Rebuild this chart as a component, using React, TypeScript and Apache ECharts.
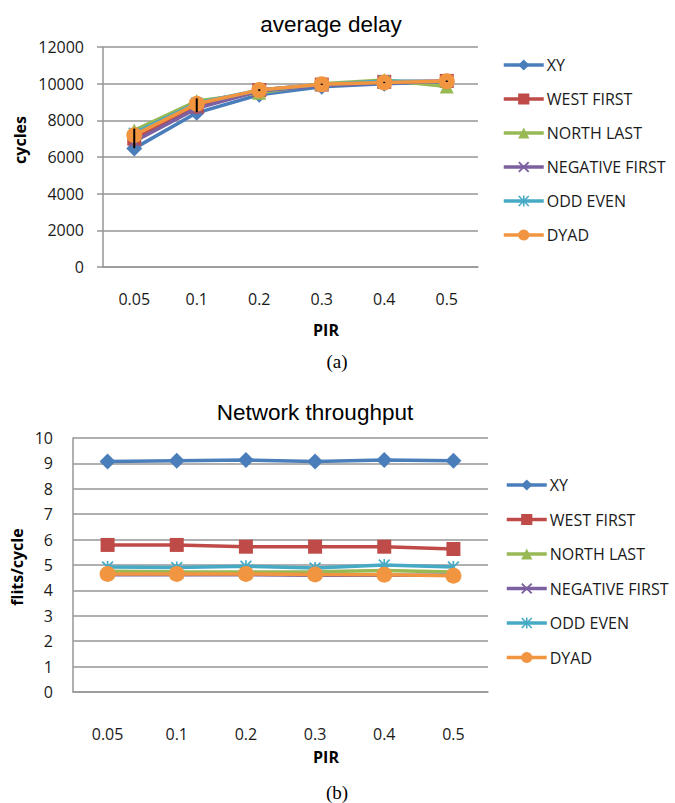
import React, { useEffect, useRef } from "react";
import * as echarts from "echarts";

const categories = ["0.05", "0.1", "0.2", "0.3", "0.4", "0.5"];
const seriesNames = ["XY", "WEST FIRST", "NORTH LAST", "NEGATIVE FIRST", "ODD EVEN", "DYAD"];
const colors = ["#4A7EBB", "#BE4B48", "#98B954", "#7D60A0", "#46AAC5", "#F29541"];

// average delay (cycles)
const xyDelay = [6470, 8410, 9400, 9830, 10000, 10100];
const westDelay = [7000, 8750, 9650, 9950, 10100, 10150];
const northDelay = [7450, 9050, 9500, 10000, 10200, 9850];
const negDelay = [6850, 8650, 9600, 9900, 10050, 10100];
const oddDelay = [7300, 8950, 9650, 9950, 10150, 10100];
const dyadDelay = [7190, 8900, 9650, 9970, 10060, 10130];
const delayErrLow = [6480, 8450, 9600, 9930, 10030, 10090];
const delayErrHigh = [7550, 9200, 9700, 10000, 10100, 10170];

// network throughput (flits/cycle)
const xyThr = [9.07, 9.1, 9.13, 9.07, 9.13, 9.1];
const westThr = [5.79, 5.79, 5.72, 5.72, 5.72, 5.63];
const northThr = [4.75, 4.73, 4.72, 4.73, 4.78, 4.72];
const negThr = [4.62, 4.62, 4.62, 4.6, 4.6, 4.6];
const oddThr = [4.92, 4.9, 4.95, 4.88, 5.0, 4.92];
const dyadThr = [4.65, 4.65, 4.65, 4.63, 4.62, 4.58];

const delayTicks = { min: 0, max: 12000, interval: 2000 };
const thrTicks = { min: 0, max: 10, interval: 1 };

const X_SYM = "path://M0,1.2 L1.2,0 L5,3.8 L8.8,0 L10,1.2 L6.2,5 L10,8.8 L8.8,10 L5,6.2 L1.2,10 L0,8.8 L3.8,5 Z";
const STAR_SYM =
  "path://M4.3,0 L5.7,0 L5.7,10 L4.3,10 Z M0,1 L1,0 L10,9 L9,10 Z M9,0 L10,1 L1,10 L0,9 Z";
const symbols = ["diamond", "rect", "triangle", X_SYM, STAR_SYM, "circle"];
const symbolSizes = [16, 14, 14, 11, 12, 16];

const FONT = "'Open Sans', sans-serif";

export default function App() {
  const ref = useRef<HTMLDivElement>(null);
  useEffect(() => {
    if (!ref.current) return;
    const chart = echarts.init(ref.current, null, { renderer: "svg" });
    const delaySets = [xyDelay, westDelay, northDelay, negDelay, oddDelay, dyadDelay];
    const thrSets = [xyThr, westThr, northThr, negThr, oddThr, dyadThr];

    const mk = (data: number[], i: number, axisIdx: number) => ({
      type: "line",
      name: seriesNames[i],
      xAxisIndex: axisIdx,
      yAxisIndex: axisIdx,
      data,
      symbol: symbols[i],
      symbolSize: symbolSizes[i],
      showAllSymbol: true,
      lineStyle: { color: colors[i], width: 3.5 },
      itemStyle: { color: colors[i], borderWidth: 0 },
      emphasis: { disabled: true },
      z: 2 + i,
    });

    const gridLine = { show: true, lineStyle: { color: "#969696", width: 1.5 } };
    const axisLine = { show: true, lineStyle: { color: "#969696", width: 1.5 } };
    const yLabel = { color: "#1a1a1a", fontFamily: FONT, fontSize: 16, formatter: (v: number) => String(v) };
    const xLabel = { color: "#1a1a1a", fontFamily: FONT, fontSize: 16 };

    const legendBase = {
      orient: "vertical",
      itemWidth: 40,
      itemHeight: 14,
      itemGap: 12,
      padding: 0,
      selectedMode: false,
      data: seriesNames,
      lineStyle: { width: 3.5 },
      textStyle: { color: "#1a1a1a", fontFamily: FONT, fontSize: 16, padding: [0, 0, 0, -2], lineHeight: 22 },
    };

    chart.setOption({
      animation: false,
      backgroundColor: "#ffffff",
      title: [
        {
          text: "average delay",
          left: 326,
          top: 8,
          textAlign: "center",
          textStyle: { fontFamily: "'Liberation Sans', Arial", fontSize: 22.5, fontWeight: "normal", color: "#000" },
        },
        {
          text: "Network throughput",
          left: 310,
          top: 396,
          textAlign: "center",
          textStyle: { fontFamily: "'Liberation Sans', Arial", fontSize: 22.5, fontWeight: "normal", color: "#000" },
        },
      ],
      legend: [
        { ...legendBase, left: 502, top: 54 },
        { ...legendBase, left: 505, top: 474, itemGap: 12.5 },
      ],
      grid: [
        { left: 103, top: 47, width: 375, height: 220 },
        { left: 73, top: 438, width: 415, height: 254 },
      ],
      xAxis: [
        {
          type: "category",
          gridIndex: 0,
          data: categories,
          axisLine,
          axisTick: { show: false },
          axisLabel: { ...xLabel, margin: 24 },
        },
        {
          type: "category",
          gridIndex: 1,
          data: categories,
          axisLine,
          axisTick: { show: false },
          axisLabel: { ...xLabel, margin: 34 },
        },
      ],
      yAxis: [
        {
          type: "value",
          gridIndex: 0,
          ...delayTicks,
          axisLine,
          axisTick: { show: true, length: 6, lineStyle: { color: "#969696", width: 1.5 } },
          splitLine: gridLine,
          axisLabel: { ...yLabel, margin: 19 },
        },
        {
          type: "value",
          gridIndex: 1,
          ...thrTicks,
          axisLine,
          axisTick: { show: false },
          splitLine: gridLine,
          axisLabel: { ...yLabel, margin: 20 },
        },
      ],
      series: [
        ...delaySets.map((d, i) => mk(d, i, 0)),
        {
          type: "custom",
          name: "errbar",
          xAxisIndex: 0,
          yAxisIndex: 0,
          z: 20,
          data: categories.map((_, i) => [i, delayErrLow[i], delayErrHigh[i]]),
          renderItem: (params: any, api: any) => {
            const a = api.coord([api.value(0), api.value(1)]);
            const b = api.coord([api.value(0), api.value(2)]);
            return {
              type: "line",
              shape: { x1: a[0], y1: a[1], x2: b[0], y2: b[1] },
              style: { stroke: "#000", lineWidth: 2 },
            };
          },
        },
        ...thrSets.map((d, i) => mk(d, i, 1)),
      ],
      graphic: [
        {
          type: "text",
          x: 20,
          y: 140,
          rotation: Math.PI / 2,
          style: { text: "cycles", font: `bold 16px ${FONT}`, fill: "#000", align: "center", verticalAlign: "middle" },
        },
        {
          type: "text",
          x: 326,
          y: 330,
          style: { text: "PIR", font: `bold 16px ${FONT}`, fill: "#000", align: "center", verticalAlign: "middle" },
        },
        {
          type: "text",
          x: 337,
          y: 361,
          style: { text: "(a)", font: `19px 'Liberation Serif', serif`, fill: "#000", align: "center", verticalAlign: "middle" },
        },
        {
          type: "text",
          x: 17,
          y: 567,
          rotation: Math.PI / 2,
          style: { text: "flits/cycle", font: `bold 16px ${FONT}`, fill: "#000", align: "center", verticalAlign: "middle" },
        },
        {
          type: "text",
          x: 326,
          y: 757,
          style: { text: "PIR", font: `bold 16px ${FONT}`, fill: "#000", align: "center", verticalAlign: "middle" },
        },
        {
          type: "text",
          x: 337,
          y: 792,
          style: { text: "(b)", font: `19px 'Liberation Serif', serif`, fill: "#000", align: "center", verticalAlign: "middle" },
        },
      ],
    });
    return () => chart.dispose();
  }, []);
  return (
    <div
      ref={ref}
      style={{ position: "absolute", left: 0, top: 0, width: 675, height: 803 }}
    />
  );
}
